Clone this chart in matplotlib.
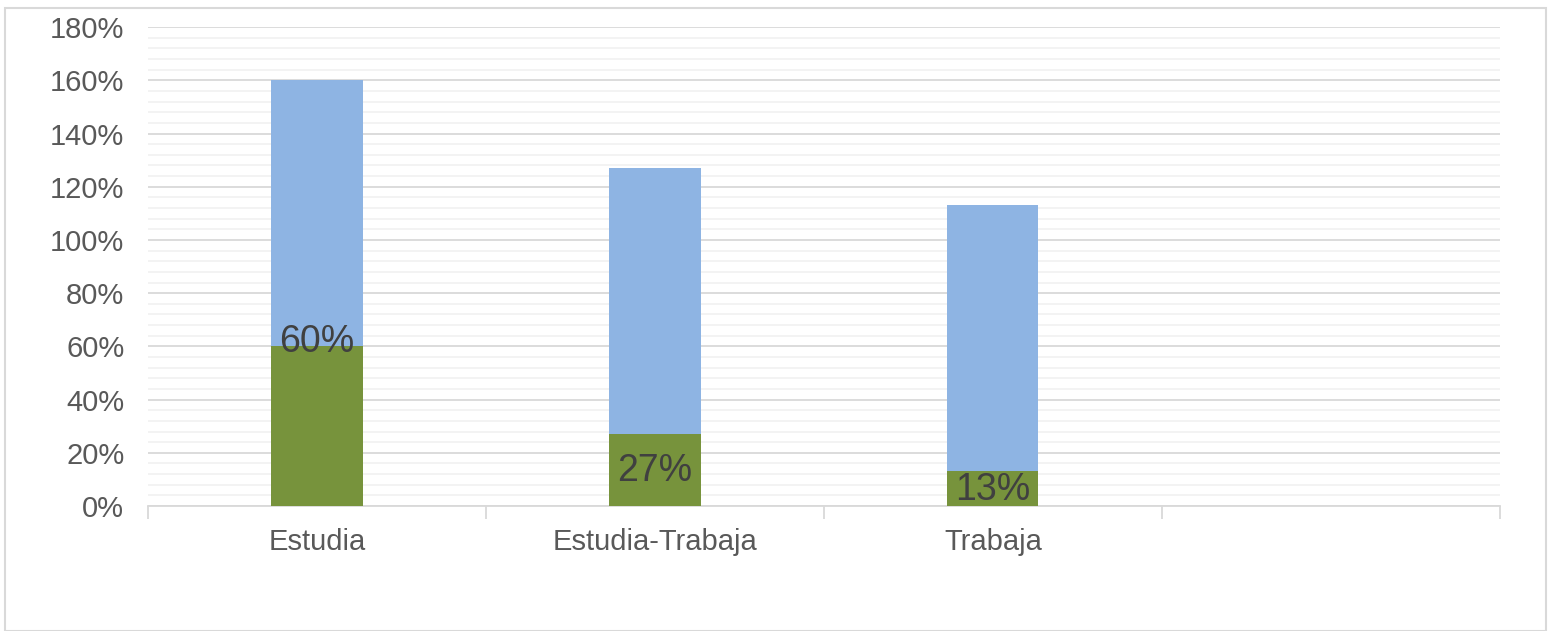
import matplotlib.pyplot as plt
from matplotlib.ticker import MultipleLocator, FuncFormatter
from matplotlib.patches import Rectangle

plt.rcParams['font.family'] = ['Liberation Sans', 'DejaVu Sans']

# datos
categorias = ['Estudia', 'Estudia-Trabaja', 'Trabaja', '']
porcentaje = [60, 27, 13]
total = [100, 100, 100]
altura_etiqueta = [61.5, 13, 6]

verde = '#77933C'
azul = '#8EB4E3'

fig = plt.figure(figsize=(15.51, 6.31), dpi=100)
ax = fig.add_axes([0.0954, 0.198, 0.8716, 0.759])

# marco exterior del gráfico
fig.patches.append(Rectangle((0.003, 0.0), 0.994, 0.987, transform=fig.transFigure,
                             fill=False, edgecolor='#D9D9D9', linewidth=1.5))

x = range(len(porcentaje))
ax.bar(x, porcentaje, width=0.27, color=verde, zorder=3)
ax.bar(x, total, bottom=porcentaje, width=0.27, color=azul, zorder=3)

for i, (v, h) in enumerate(zip(porcentaje, altura_etiqueta)):
    ax.text(i, h, f'{v}%', ha='center', va='center', fontsize=27, color='#404040', zorder=4)

ax.set_xlim(-0.5, len(categorias) - 0.5)
ax.set_ylim(0, 180)
ax.yaxis.set_major_locator(MultipleLocator(20))
ax.yaxis.set_minor_locator(MultipleLocator(4))
ax.yaxis.set_major_formatter(FuncFormatter(lambda v, p: f'{v:.0f}%'))
ax.grid(which='major', axis='y', color='#D9D9D9', linewidth=1.3, zorder=0)
ax.grid(which='minor', axis='y', color='#F2F2F2', linewidth=1.3, zorder=0)
ax.tick_params(axis='y', which='both', length=0, labelsize=21, labelcolor='#595959', pad=17)

ax.set_xticks(range(len(categorias)))
ax.set_xticklabels(categorias)
ax.set_xticks([i - 0.5 for i in range(len(categorias) + 1)], minor=True)
ax.tick_params(axis='x', which='major', length=0, labelsize=21, labelcolor='#595959', pad=16)
ax.tick_params(axis='x', which='minor', length=9, color='#D9D9D9', width=1.3)

for s in ['top', 'right', 'left']:
    ax.spines[s].set_visible(False)
ax.spines['bottom'].set_color('#D9D9D9')
ax.spines['bottom'].set_linewidth(1.3)

fig.savefig('out.png', dpi=100)
